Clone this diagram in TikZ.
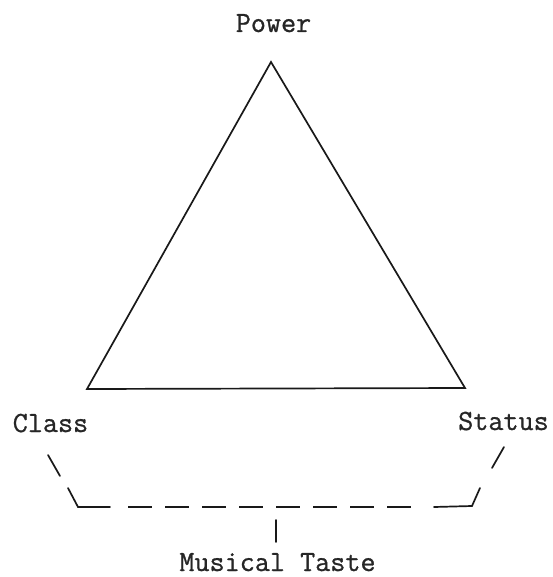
\documentclass[tikz,border=0pt]{standalone}
\usepackage{fontspec}
\newfontfamily\twfont[FakeBold=0.9]{Latin Modern Mono}
\begin{document}
\begin{tikzpicture}[x=1pt,y=-1pt,
  lbl/.style={font=\twfont\fontsize{29.3}{32}\selectfont, text=black!85, inner sep=0pt, anchor=base},
  ln/.style={line width=1.7pt, black!90, line cap=round, line join=miter},
  dashln/.style={ln, line cap=butt, dash pattern=on 24pt off 13pt}]
\useasboundingbox (0,0) rectangle (552,577);
% triangle
\coordinate (P) at (271,62);
\coordinate (C) at (87,389);
\coordinate (S) at (465,388);
\draw[ln] (P) -- (C) -- (S) -- cycle;
% labels
\node[lbl] (power) at (273.5,32) {Power};
\node[lbl] (class) at (50.5,432) {Class};
\node[lbl] (status) at (503.5,430) {Status};
\node[lbl] (taste) at (277.5,571) {Musical Taste};
% bracket
\coordinate (a1) at (48,455);
\coordinate (a2) at (60,476);
\coordinate (b1) at (68,488);
\coordinate (b2) at (78,507);
\coordinate (b3) at (110,507);
\coordinate (d1) at (128,507);
\coordinate (d2) at (421,507);
\coordinate (c1) at (434,507);
\coordinate (c2) at (472,506);
\coordinate (c3) at (480,488);
\coordinate (e1) at (492,468);
\coordinate (e2) at (504,447);
\coordinate (t1) at (276,520);
\coordinate (t2) at (276,542);
\draw[ln] (a1) -- (a2);
\draw[ln] (b1) -- (b2) -- (b3);
\draw[dashln] (d1) -- (d2);
\draw[ln] (c1) -- (c2) -- (c3);
\draw[ln] (e1) -- (e2);
\draw[ln] (t1) -- (t2);
\end{tikzpicture}
\end{document}
